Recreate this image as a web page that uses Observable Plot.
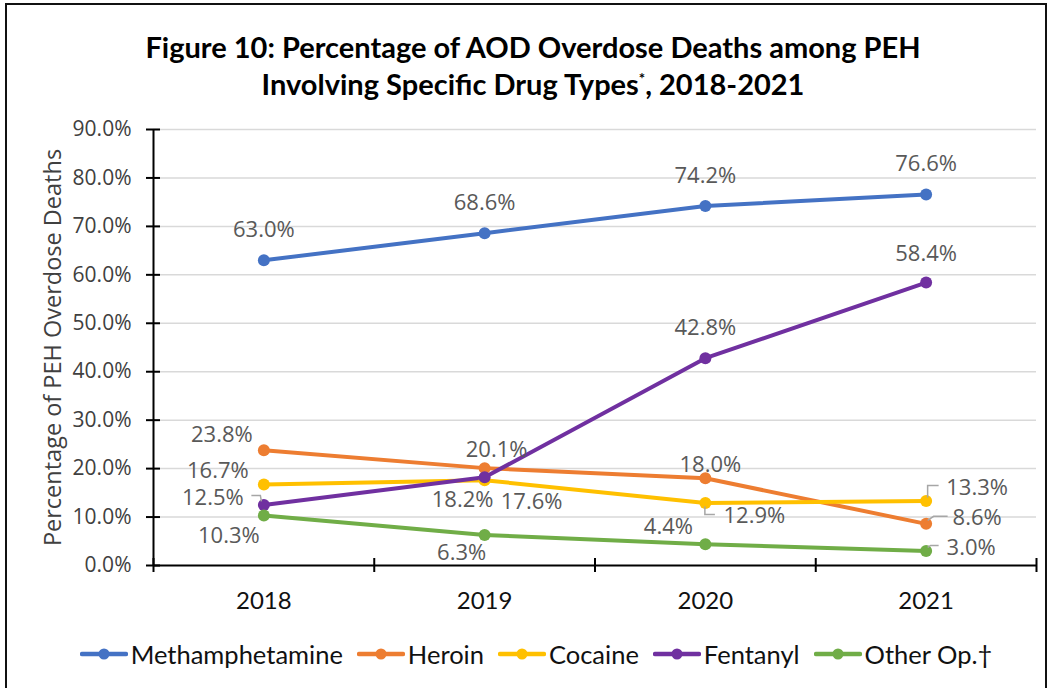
<!DOCTYPE html>
<html>
<head>
<meta charset="utf-8">
<script src="https://cdn.jsdelivr.net/npm/d3@7"></script>
<script src="https://cdn.jsdelivr.net/npm/@observablehq/plot@0.6"></script>
<style>
  html, body { margin: 0; padding: 0; background: #fff; }
  body { width: 1050px; height: 688px; position: relative; overflow: hidden; }
  #frame { position: absolute; left: 5px; top: 3px; width: 1042px; height: 720px; border: 2px solid #111; box-sizing: border-box; }
  #title { position: absolute; left: 16px; width: 1034px; top: 28px; text-align: center; font-family: Lato, sans-serif; font-weight: 700; font-size: 29px; line-height: 37px; color: #000; }
  #title sup { font-size: 15px; vertical-align: 11px; line-height: 0; }
  #chart { position: absolute; left: 0; top: 100px; }
  #legend { position: absolute; left: 0; width: 1072px; top: 637px; height: 34px; display: flex; justify-content: center; align-items: center; font-family: Lato, sans-serif; font-size: 25.5px; color: #111; }
  .item { display: flex; align-items: center; margin: 0 7px; }
  .item svg { margin-right: 3px; }
</style>
</head>
<body>
<div id="frame"></div>
<div id="title">Figure 10: Percentage of AOD Overdose Deaths among PEH<br>Involving Specific Drug Types<sup>*</sup>, 2018-2021</div>
<div id="chart"></div>
<div id="legend"></div>
<script>
// ---- data ----
const years = [2018, 2019, 2020, 2021];
const drugs = ["Methamphetamine", "Heroin", "Cocaine", "Fentanyl", "Other Op.†"];
const methamphetamine = [63.0, 68.6, 74.2, 76.6];
const heroin = [23.8, 20.1, 18.0, 8.6];
const cocaine = [16.7, 17.6, 12.9, 13.3];
const fentanyl = [12.5, 18.2, 42.8, 58.4];
const otherOp = [10.3, 6.3, 4.4, 3.0];
const yTicks = [0, 10, 20, 30, 40, 50, 60, 70, 80, 90];
const yTitle = "Percentage of PEH Overdose Deaths";

// ---- style ----
const colors = ["#4472C4", "#ED7D31", "#FFC000", "#7030A0", "#70AD47"];
// label offsets (px) per series, per year
const labelOffsets = [
  [[0, -30], [0, -30], [0, -30], [0, -30]],
  [[-42, -15], [12, -18], [5, -13], [51, -6]],
  [[-46, -14], [47, 22], [49, 13], [51, -13]],
  [[-51, -7], [-22, 23], [0, -30], [0, -29]],
  [[-35, 20], [-23, 18], [-37, -17], [45, -3]]
];
// leader lines: [seriesIndex, yearIndex, polyline offsets in px]
const leaders = [
  [3, 0, [[-2, -3], [-3, -9], [-12, -9]]],
  [2, 2, [[0, 4], [0, 12], [10, 12]]],
  [2, 3, [[2, -3], [2, -15], [13, -15]]],
  [1, 3, [[2, -3], [8, -7], [22, -7]]],
  [4, 3, [[2, -3], [5, -5], [13, -5]]]
];

const series = [methamphetamine, heroin, cocaine, fentanyl, otherOp];
const rows = [];
series.forEach((vals, si) => vals.forEach((v, yi) => rows.push({drug: drugs[si], si, yi, year: years[yi], value: v})));
const bounds = [years[0] - 0.5, ...years.map(y => y + 0.5)];

const labelFont = "'Open Sans', 'DejaVu Sans', sans-serif";
const textMarks = rows.map(r => Plot.text([r], {
  x: "year", y: "value", text: d => d.value.toFixed(1) + "%",
  dx: labelOffsets[r.si][r.yi][0], dy: labelOffsets[r.si][r.yi][1],
  fill: "#595959", fontSize: 22, fontFamily: labelFont, textAnchor: "middle", lineAnchor: "middle"
}));

const leaderMark = (index, scales, values, dimensions) => {
  const g = d3.create("svg:g").attr("fill", "none").attr("stroke", "#a6a6a6").attr("stroke-width", 1.5);
  for (const [si, yi, pts] of leaders) {
    const x0 = scales.x(years[yi]), y0 = scales.y(series[si][yi]);
    g.append("path").attr("d", "M" + pts.map(([dx, dy]) => `${x0 + dx},${y0 + dy}`).join("L"));
  }
  return g.node();
};

const chart = Plot.plot({
  width: 1050,
  height: 540,
  marginLeft: 153,
  marginRight: 14,
  marginTop: 29,
  marginBottom: 75,
  style: {fontFamily: labelFont, overflow: "visible", background: "transparent"},
  x: {type: "linear", domain: [bounds[0], bounds[bounds.length - 1]], axis: null},
  y: {domain: [0, 90], axis: null},
  color: {domain: drugs, range: colors},
  marks: [
    Plot.gridY(yTicks.filter(d => d > 0), {stroke: "#d9d9d9", strokeOpacity: 1, strokeWidth: 1.5}),
    Plot.ruleY([0], {stroke: "#000", strokeWidth: 2}),
    Plot.ruleX([bounds[0]], {stroke: "#000", strokeWidth: 2}),
    Plot.axisX(bounds, {anchor: "bottom", label: null, tickSize: 14, dy: -7, tickFormat: () => "", stroke: "#000", strokeWidth: 2}),
    Plot.axisY(yTicks, {anchor: "left", label: null, tickSize: 14, dx: 7, tickFormat: () => "", stroke: "#000", strokeWidth: 2}),
    Plot.text(yTicks, {x: bounds[0], y: d => d, text: d => d.toFixed(1) + "%", dx: -22, textAnchor: "end", lineAnchor: "middle", fill: "#404040", fontSize: 21, fontFamily: labelFont, style: {letterSpacing: "0.4px"}}),
    Plot.text(years, {x: d => d, y: 0, text: d => String(d), dy: 36, textAnchor: "middle", lineAnchor: "middle", fill: "#111", fontSize: 24, fontFamily: "Lato, sans-serif"}),
    Plot.text([yTitle], {x: bounds[0], y: 45, dx: -100, rotate: -90, text: d => d, fill: "#404040", fontSize: 23.5, fontFamily: labelFont, textAnchor: "middle", lineAnchor: "middle"}),
    Plot.line(rows, {x: "year", y: "value", z: "drug", stroke: "drug", strokeWidth: 4, strokeLinecap: "round", strokeLinejoin: "round"}),
    Plot.dot(rows, {x: "year", y: "value", fill: "drug", r: 6}),
    leaderMark,
    ...textMarks
  ]
});
document.getElementById("chart").appendChild(chart);

// legend
const legend = d3.select("#legend");
drugs.forEach((name, i) => {
  const item = legend.append("div").attr("class", "item");
  const svg = item.append("svg").attr("width", 48).attr("height", 14);
  svg.append("line").attr("x1", 2).attr("x2", 46).attr("y1", 7).attr("y2", 7).attr("stroke", colors[i]).attr("stroke-width", 4.5).attr("stroke-linecap", "round");
  svg.append("circle").attr("cx", 24).attr("cy", 7).attr("r", 5.5).attr("fill", colors[i]);
  item.append("span").text(name);
});
</script>
</body>
</html>
